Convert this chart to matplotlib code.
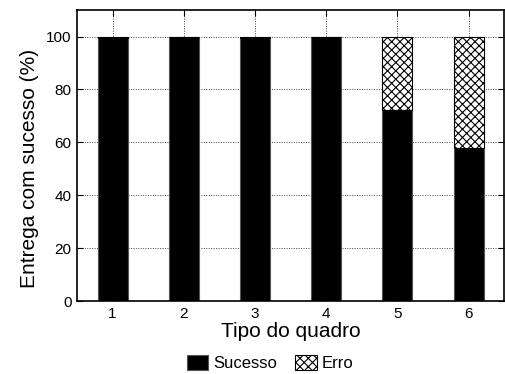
import matplotlib.pyplot as plt
import numpy as np

plt.rcParams['font.family'] = ['Liberation Sans', 'DejaVu Sans']
plt.rcParams['hatch.linewidth'] = 0.8

# dados
tipos = ['1', '2', '3', '4', '5', '6']
sucesso = [99.5, 100, 99.3, 100, 72.2, 58.0]
erro = [0.5, 0, 0.7, 0, 27.8, 42.0]

fig = plt.figure(figsize=(5.05, 3.74), dpi=100)
ax = fig.add_axes([0.1525, 0.195, 0.846, 0.778])

x = np.arange(1, len(tipos) + 1)
ax.grid(True, linestyle=(0, (1, 1.5)), color='#444444', linewidth=0.7)
ax.set_axisbelow(True)
ax.bar(x, sucesso, width=0.42, color='black', edgecolor='#555555', linewidth=0.8, label='Sucesso', zorder=2)
ax.bar(x, erro, bottom=sucesso, width=0.42, color='white', edgecolor='black',
       hatch='xxxx', linewidth=0.8, label='Erro', zorder=2)

ax.set_xlim(0.5, 6.5)
ax.set_ylim(0, 110)
ax.set_xticks(x)
ax.set_xticklabels(tipos)
ax.set_yticks([0, 20, 40, 60, 80, 100])
ax.tick_params(direction='in', length=4, width=0.8, labelsize=11, top=True, right=True, pad=4)
for s in ax.spines.values():
    s.set_linewidth(1.2)

ax.set_xlabel('Tipo do quadro', fontsize=15, labelpad=1)
ax.set_ylabel('Entrega com sucesso (%)', fontsize=15)
ax.yaxis.set_label_coords(-0.09, 0.455)

fig.legend(loc='center', bbox_to_anchor=(0.535, 0.03), ncol=2, frameon=False,
           fontsize=12, handlelength=1.3, handleheight=1.0, columnspacing=1.1, handletextpad=0.3)

plt.savefig('out.png')
